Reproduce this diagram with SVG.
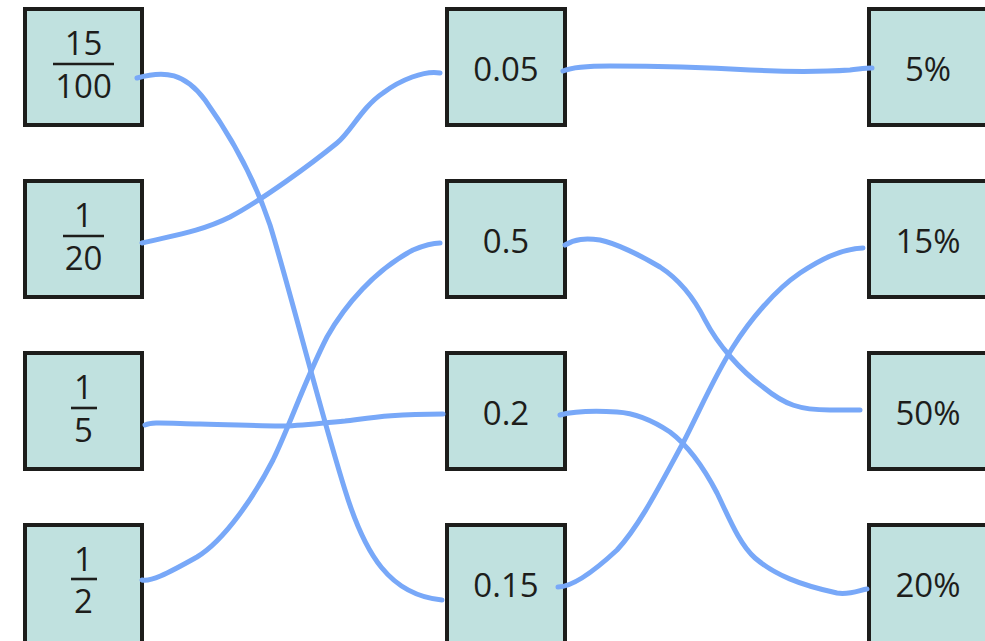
<svg xmlns="http://www.w3.org/2000/svg" width="985" height="641" viewBox="0 0 985 641">
<style>
.box{fill:#c0e1df;stroke:#1d1d1b;stroke-width:4}
.t{font-family:"Open Sans","Noto Sans","DejaVu Sans",sans-serif;font-size:33px;fill:#1d1d1b;text-anchor:middle}
.bar{stroke:#1d1d1b;stroke-width:2.6}
.c{fill:none;stroke:#78a8f8;stroke-width:5;stroke-linecap:round;stroke-linejoin:round}
</style>
<rect width="985" height="641" fill="#ffffff"/>
<g id="n-15-100"><rect class="box" x="25" y="9" width="117" height="116"/><text class="t" x="83.5" y="55">15</text><line class="bar" x1="53" y1="64" x2="114" y2="64"/><text class="t" x="83.5" y="98">100</text></g>
<g id="n-1-20"><rect class="box" x="25" y="181" width="117" height="116"/><text class="t" x="83.5" y="227">1</text><line class="bar" x1="63" y1="236" x2="104" y2="236"/><text class="t" x="83.5" y="270">20</text></g>
<g id="n-1-5"><rect class="box" x="25" y="353" width="117" height="116"/><text class="t" x="83.5" y="399">1</text><line class="bar" x1="71" y1="408" x2="97" y2="408"/><text class="t" x="83.5" y="442">5</text></g>
<g id="n-1-2"><rect class="box" x="25" y="525" width="117" height="118"/><text class="t" x="83.5" y="571">1</text><line class="bar" x1="71" y1="579" x2="97" y2="579"/><text class="t" x="83.5" y="613">2</text></g>
<g id="n-0.05"><rect class="box" x="447" y="9" width="118" height="116"/><text class="t" x="506" y="81">0.05</text></g>
<g id="n-0.5"><rect class="box" x="447" y="181" width="118" height="116"/><text class="t" x="506" y="253">0.5</text></g>
<g id="n-0.2"><rect class="box" x="447" y="353" width="118" height="116"/><text class="t" x="506" y="425">0.2</text></g>
<g id="n-0.15"><rect class="box" x="447" y="525" width="118" height="118"/><text class="t" x="506" y="597">0.15</text></g>
<g id="n-5pct"><rect class="box" x="869" y="9" width="120" height="116"/><text class="t" x="928" y="81">5%</text></g>
<g id="n-15pct"><rect class="box" x="869" y="181" width="120" height="116"/><text class="t" x="928" y="253">15%</text></g>
<g id="n-50pct"><rect class="box" x="869" y="353" width="120" height="116"/><text class="t" x="928" y="425">50%</text></g>
<g id="n-20pct"><rect class="box" x="869" y="525" width="120" height="118"/><text class="t" x="928" y="597">20%</text></g>
<g id="connectors">
<path class="c" d="M137,78 C165,70 185,73 205,100 C230,135 255,180 270,225 C290,290 320,410 345,490 C365,555 390,595 442,600"/>
<path class="c" d="M142,243 C170,236 200,232 230,217 C262,200 310,165 337,143 C350,133 362,107 383,93 C400,80 425,70 440,73"/>
<path class="c" d="M142,580 C150,582 165,575 197,557 C225,540 255,495 273,460 C290,425 305,380 327,337 C345,305 375,270 413,250 C425,245 432,243 440,243"/>
<path class="c" d="M145,425 C152,422 160,423 200,424 C240,425 260,426 280,426 C300,426 320,423 345,421 C370,418 390,414 443,414"/>
<path class="c" d="M563,71 C570,68 580,66 610,66 C650,66 700,67 750,70 C790,72 820,72 850,70 C860,69 865,68 872,68"/>
<path class="c" d="M565,245 C575,239 585,238 600,240 C615,243 640,255 660,267 C680,280 695,300 705,320 C718,345 740,370 763,387 C785,405 800,410 830,410 L860,410"/>
<path class="c" d="M558,587 C570,587 590,575 617,550 C640,525 660,485 683,443 C700,410 715,375 733,347 C750,320 775,290 800,273 C820,260 840,249 863,248"/>
<path class="c" d="M560,415 C575,411 600,411 617,412 C635,413 655,422 670,432 C690,447 705,470 717,493 C730,520 740,545 755,558 C775,575 800,585 837,593 C850,595 860,590 867,589"/>
</g>
</svg>
